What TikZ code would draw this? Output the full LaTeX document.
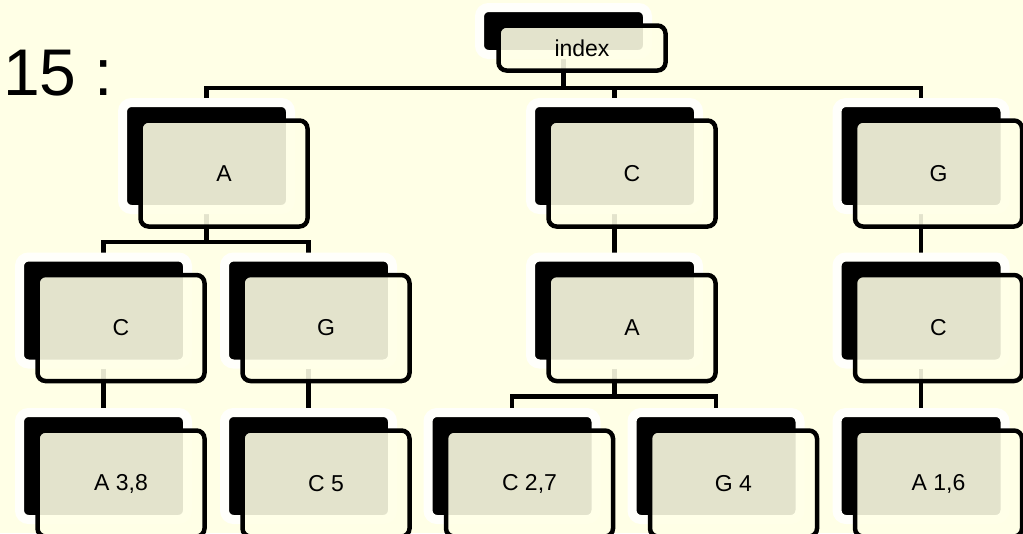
\documentclass[tikz,border=0pt]{standalone}
\usepackage{fontspec}
\setmainfont{Liberation Sans}
\usetikzlibrary{backgrounds, shadows}
\definecolor{paper}{RGB}{255,255,230}
\definecolor{halo}{RGB}{255,255,251}

\begin{document}
\begin{tikzpicture}[x=1pt, y=-1pt]
    \tikzstyle{plate} = [draw=halo, fill=black, line width=9pt, rounded corners=9pt,
	minimum width=168pt, minimum height=107pt, inner sep=0pt,
	drop shadow={opacity=0.12, shadow xshift=-1.5pt, shadow yshift=-2.5pt}]
    \tikzstyle{card} = [draw=black, fill=paper, fill opacity=0.89, text opacity=1,
	line width=4.5pt, rounded corners=8pt, minimum width=167pt, minimum height=106pt,
	inner sep=0pt, font=\fontsize{23}{27}\selectfont, shift={(17.5,17.5)}]
    \tikzstyle{link} = [line width=4.5pt]
	\useasboundingbox (0,0) rectangle (1023,533);
	\clip (0,0) rectangle (1023,533);
	% plates
	\node[plate, minimum height=47pt] (root) at (563.5,31) {};
	\node[plate] (A) at (206.5,156) {};
	\node[plate] (C) at (614.5,156) {};
	\node[plate] (G) at (921,156) {};
	\node[plate] (AC) at (103.5,310.5) {};
	\node[plate] (AG) at (308.5,310.5) {};
	\node[plate] (CA) at (614.5,310.5) {};
	\node[plate] (GC) at (921,310.5) {};
	\node[plate] (ACA) at (103.5,466) {};
	\node[plate] (AGC) at (308.5,466) {};
	\node[plate] (CAC) at (512,466) {};
	\node[plate] (CAG) at (716,466) {};
	\node[plate] (GCA) at (921,466) {};
	% cards
	\node[card, minimum height=45pt, shift={(1,-0.5)}] (root-l) at (root) {index};
	\node[card] (A-l) at (A) {A};
	\node[card] (C-l) at (C) {C};
	\node[card] (G-l) at (G) {G};
	\node[card] (AC-l) at (AC) {C};
	\node[card] (AG-l) at (AG) {G};
	\node[card] (CA-l) at (CA) {A};
	\node[card] (GC-l) at (GC) {C};
	\node[card] (ACA-l) at (ACA) {A 3,8};
	\node[card] (AGC-l) at (AGC) {C 5};
	\node[card] (CAC-l) at (CAC) {C 2,7};
	\node[card] (CAG-l) at (CAG) {G 4};
	\node[card] (GCA-l) at (GCA) {A 1,6};
	\node[anchor=base west, inner sep=0pt, font=\fontsize{66}{70}\selectfont]
		(count) at (3,95) {15 :};
	\begin{scope}[on background layer]
		\fill[paper] (0,0) rectangle (1023,533);
		\coordinate (j0) at (563.5,88);
		\coordinate (j1) at (206.5,242);
		\coordinate (j2) at (614.5,396.5);
		\draw[link] (root) -- (j0);
		\draw[link] (A) |- (j0) -| (G);
		\draw[link] (j0) -| (C);
		\draw[link] (A) -- (j1);
		\draw[link] (AC) |- (j1) -| (AG);
		\draw[link] (C) -- (CA);
		\draw[link] (G) -- (GC);
		\draw[link] (AC) -- (ACA);
		\draw[link] (AG) -- (AGC);
		\draw[link] (CA) -- (j2);
		\draw[link] (CAC) |- (j2) -| (CAG);
		\draw[link] (GC) -- (GCA);
	\end{scope}
\end{tikzpicture}
\end{document}
